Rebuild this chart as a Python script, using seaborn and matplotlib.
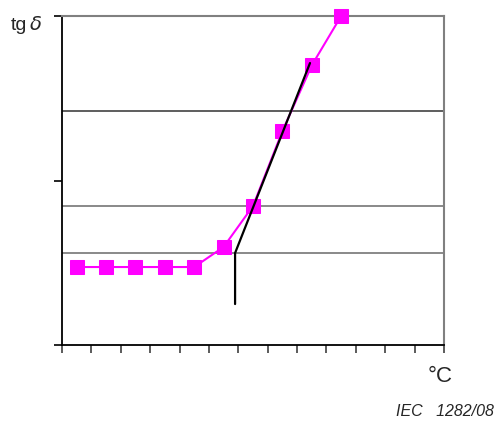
import matplotlib
matplotlib.use("Agg")
import matplotlib.pyplot as plt
import seaborn as sns
import pandas as pd

# --- Data ---
x_pos = [0.5, 1.5, 2.5, 3.5, 4.5, 5.5, 6.5, 7.5, 8.5, 9.5]
tg_delta = [0.474, 0.474, 0.474, 0.474, 0.474, 0.596, 0.845, 1.30, 1.70, 2.0]

tangent_x = [5.89, 5.89, 8.44]
tangent_y = [0.249, 0.559, 1.714]

hlines_y = [0.559, 0.845, 1.42]
hlines_col = ["#808080", "#808080", "#505050"]

df = pd.DataFrame({"x": x_pos, "y": tg_delta})

sns.set_style("white")
plt.rcParams["font.family"] = ["Liberation Sans", "DejaVu Sans"]

fig = plt.figure(figsize=(4.95, 4.24), dpi=100)
ax = fig.add_axes([62 / 495, 1 - 345 / 424, (444 - 62) / 495, (345 - 16) / 424])

for yv, c in zip(hlines_y, hlines_col):
    ax.axhline(yv, color=c, lw=1.3, zorder=1)

sns.lineplot(data=df, x="x", y="y", ax=ax, color="#FF00FF", lw=1.5,
             marker="s", markersize=10, markeredgecolor="#FF00FF", zorder=3,
             clip_on=False)
ax.plot(tangent_x, tangent_y, color="black", lw=1.6, zorder=4, clip_on=False)

ax.set_xlim(0, 13)
ax.set_ylim(0, 2)
ax.set_xticks(range(14))
ax.set_yticks([0, 1, 2])
ax.set_xticklabels([])
ax.set_yticklabels([])
ax.set_xlabel("")
ax.set_ylabel("")
ax.tick_params(axis="both", direction="out", length=6, width=1.2, color="black",
               bottom=True, left=True)
ax.tick_params(axis="x", color="#404040")

for side in ["left", "bottom"]:
    ax.spines[side].set_color("black")
    ax.spines[side].set_linewidth(1.3)
for side in ["top", "right"]:
    ax.spines[side].set_color("#808080")
    ax.spines[side].set_linewidth(1.5)

fig.text(11 / 495, 1 - 26 / 424, "tg", fontsize=14, va="center", ha="left")
fig.text(29 / 495, 1 - 25 / 424, r"$\delta$", fontsize=14, va="center", ha="left")
fig.text(453 / 495, 1 - 377 / 424, "°C", fontsize=16, va="center", ha="right")
fig.text(494 / 495, 1 - 412 / 424, "IEC   1282/08", fontsize=11.5, style="italic",
         va="center", ha="right")

fig.savefig("out.png", dpi=100)
